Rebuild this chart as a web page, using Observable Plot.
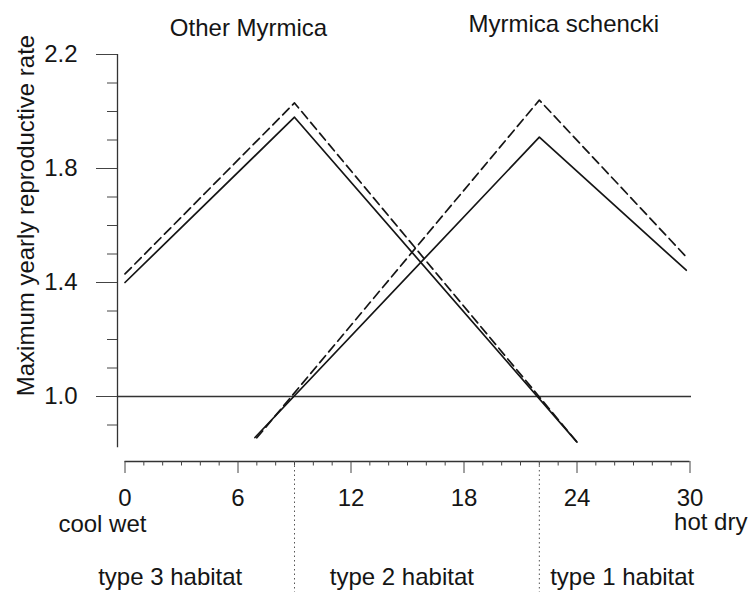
<!DOCTYPE html>
<html>
<head>
<meta charset="utf-8">
<script src="https://cdn.jsdelivr.net/npm/d3@7"></script>
<script src="https://cdn.jsdelivr.net/npm/@observablehq/plot@0.6"></script>
<style>
  html, body { margin: 0; padding: 0; background: #fff; }
  #chart svg { display: block; }
</style>
</head>
<body>
<div id="chart"></div>
<script>
// ---- data ----
const otherX = [0, 9, 24];
const otherSolidY = [1.40, 1.98, 0.84];
const otherDashedY = [1.43, 2.03, 0.84];

const schenckiX = [6.9, 22, 29.8];
const schenckiSolidY = [0.856, 1.91, 1.443];
const schenckiDashedX = [7.0, 22, 29.8];
const schenckiDashedY = [0.855, 2.04, 1.49];

const yMajorTicks = [1.0, 1.4, 1.8, 2.2];
const yMinorTicks = [0.9, 1.1, 1.2, 1.3, 1.5, 1.6, 1.7, 1.9, 2.0, 2.1];
const xMajorTicks = [0, 6, 12, 18, 24, 30];
const xMinorTicks = d3.range(0, 31).filter(d => d % 6 !== 0);
const habitatBoundaries = [9, 22];
const habitatLabels = ["type 3 habitat", "type 2 habitat", "type 1 habitat"];
const habitatCenters = [2.4, 14.7, 26.4];
const referenceLevel = [1.0];

const yLabel = "Maximum yearly reproductive rate";

// ---- tables ----
const mk = (xs, ys, series) => xs.map((x, i) => ({x, y: ys[i], series}));
const solid = [...mk(otherX, otherSolidY, "Other Myrmica"), ...mk(schenckiX, schenckiSolidY, "Myrmica schencki")];
const dashed = [...mk(otherX, otherDashedY, "Other Myrmica"), ...mk(schenckiDashedX, schenckiDashedY, "Myrmica schencki")];
const habitats = habitatLabels.map((label, i) => ({label, x: habitatCenters[i]}));

const yMin = 0.82, yMax = 2.2;
const axisOffset = 13.7;   // gap between plot frame and x axis line (px)
const yAxisOffset = -7.5;  // y axis drawn left of x = 0
const ink = "#151515";
const font = 24;

const chart = Plot.plot({
  width: 752,
  height: 592,
  marginLeft: 124.5,
  marginRight: 62.5,
  marginTop: 54,
  marginBottom: 144.7,
  style: {fontFamily: "'Liberation Sans', Arial, Helvetica, sans-serif", fontSize: font + "px", color: ink, background: "#fff"},
  x: {domain: [0, 30], axis: null},
  y: {domain: [yMin, yMax], axis: null},
  marks: [
    // reference line at 1.0
    Plot.ruleY(referenceLevel, {insetLeft: yAxisOffset, insetRight: -1.5, stroke: "#333", strokeWidth: 1.3}),
    // y axis line and ticks
    Plot.ruleX([0], {y1: yMin, y2: yMax, dx: yAxisOffset, stroke: "#333", strokeWidth: 1.3}),
    Plot.axisY(yMajorTicks, {anchor: "left", tickSize: 21, tickPadding: 19, dx: yAxisOffset,
      tickFormat: d3.format(".1f"), fontSize: font, label: null, stroke: "#444", fill: ink}),
    Plot.axisY(yMinorTicks, {anchor: "left", tickSize: 10, dx: yAxisOffset,
      tickFormat: () => "", label: null, stroke: "#444"}),
    // x axis line and ticks
    Plot.ruleY([yMin], {x1: 0, x2: 30, dy: axisOffset, stroke: "#333", strokeWidth: 1.3}),
    Plot.axisX(xMajorTicks, {anchor: "bottom", tickSize: 12, tickPadding: 15.3, dy: axisOffset,
      fontSize: font, label: null, stroke: "#444", fill: ink}),
    Plot.axisX(xMinorTicks, {anchor: "bottom", tickSize: 4.5, dy: axisOffset,
      tickFormat: () => "", label: null, stroke: "#444"}),
    // habitat boundaries (dotted)
    Plot.ruleX(habitatBoundaries, {y1: yMin, y2: yMin - 0.46, dy: axisOffset, stroke: "#555",
      strokeWidth: 1, strokeDasharray: "1.5,3"}),
    // curves
    Plot.line(solid, {x: "x", y: "y", z: "series", stroke: ink, strokeWidth: 1.7}),
    Plot.line(dashed, {x: "x", y: "y", z: "series", stroke: ink, strokeWidth: 1.7, strokeDasharray: "9,5"}),
    // titles
    Plot.text(["Other Myrmica"], {x: 6.56, y: 2.291, fontSize: font, fill: ink}),
    Plot.text(["Myrmica schencki"], {x: 23.3, y: 2.305, fontSize: font, fill: ink}),
    // y label
    Plot.text([yLabel], {frameAnchor: "left", y: 1.635, dx: -91.5, rotate: -90, textAnchor: "middle",
      lineAnchor: "bottom", fontSize: font, fill: ink}),
    // end labels
    Plot.text(["cool wet"], {x: -1.2, y: yMin, dy: 77, fontSize: font, fill: ink}),
    Plot.text(["hot dry"], {x: 31.1, y: yMin, dy: 75, fontSize: font, fill: ink}),
    // habitat labels
    Plot.text(habitats, {x: "x", y: yMin, dy: 130, text: "label", fontSize: font, fill: ink})
  ]
});

document.getElementById("chart").appendChild(chart);
</script>
</body>
</html>
